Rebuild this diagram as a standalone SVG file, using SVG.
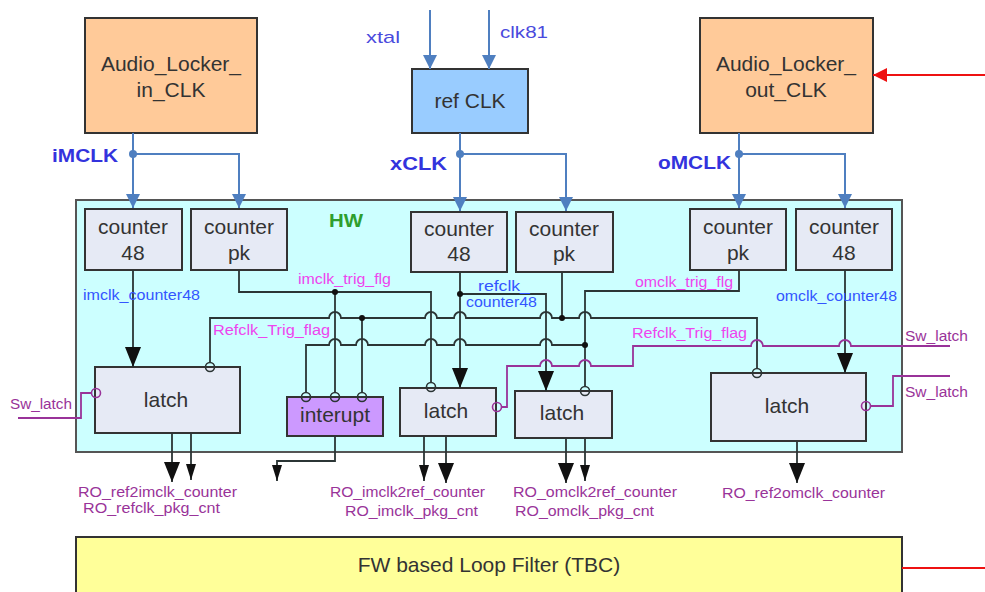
<svg xmlns="http://www.w3.org/2000/svg" width="985" height="592" viewBox="0 0 985 592">
<style>
text{font-family:"Liberation Sans",Arial,sans-serif}
.box{stroke:#333;stroke-width:2}
.orange{fill:#FFCA99}
.refc{fill:#99CCFF}
.cnt{fill:#E6EAF5}
.intr{fill:#CC99FF}
.bt{font-size:21px;fill:#333;text-anchor:middle}
.clkw{fill:none;stroke:#4F7FC0;stroke-width:2}
.w{fill:none;stroke:#2b3535;stroke-width:1.8}
.pw{fill:none;stroke:#993399;stroke-width:1.8}
.dot{fill:#111}
.bdot{fill:#4F7FC0}
.bub{fill:none;stroke:#2b3535;stroke-width:1.6}
.pbub{fill:none;stroke:#993399;stroke-width:1.6}
.ck{font-size:19px;font-weight:bold;fill:#3333DD}
.in{font-size:17px;fill:#4A4ADD}
.mg{font-size:14px;fill:#EE44EE}
.bl{font-size:14px;fill:#3355FF}
.pu{font-size:14px;fill:#993399}
.ro{font-size:14px;fill:#993399}
</style>
<defs>
<marker id="ab" markerUnits="userSpaceOnUse" viewBox="0 0 14 14" markerWidth="14" markerHeight="14" refX="14" refY="7" orient="auto"><path d="M0,0 L14,7 L0,14 z" fill="#4F7FC0"/></marker>
<marker id="ak" markerUnits="userSpaceOnUse" viewBox="0 0 20 16" markerWidth="20" markerHeight="16" refX="20" refY="8" orient="auto"><path d="M0,0 L20,8 L0,16 z" fill="#111"/></marker>
<marker id="aks" markerUnits="userSpaceOnUse" viewBox="0 0 16 10" markerWidth="16" markerHeight="10" refX="16" refY="5" orient="auto"><path d="M0,0 L16,5 L0,10 z" fill="#111"/></marker>
<marker id="ar" markerUnits="userSpaceOnUse" viewBox="0 0 14 14" markerWidth="14" markerHeight="14" refX="14" refY="7" orient="auto"><path d="M0,0 L14,7 L0,14 z" fill="#EE1111"/></marker>
</defs>

<g id="hw">
<rect x="76" y="200" width="826" height="252" fill="#CCFFFF" stroke="#555" stroke-width="2"/>
<text x="329" y="227" font-size="19" font-weight="bold" fill="#2E9E2E" textLength="34" lengthAdjust="spacingAndGlyphs">HW</text>
</g>

<g id="fw">
<rect x="76" y="537" width="826" height="62" fill="#FFFF99" stroke="#333" stroke-width="2"/>
<text x="489" y="572" class="bt">FW based Loop Filter (TBC)</text>
</g>

<g id="audio_in">
<rect x="85" y="18" width="172" height="115" class="box orange"/>
<text x="171" y="71" class="bt">Audio_Locker_</text>
<text x="171" y="97" class="bt">in_CLK</text>
</g>
<g id="ref_clk">
<rect x="412" y="69" width="116" height="64" class="box refc"/>
<text x="470" y="108" class="bt">ref CLK</text>
</g>
<g id="audio_out">
<rect x="700" y="18" width="173" height="115" class="box orange"/>
<text x="786" y="71" class="bt">Audio_Locker_</text>
<text x="786" y="97" class="bt">out_CLK</text>
</g>

<g id="counter48_i"><rect x="85" y="209" width="97" height="61" class="box cnt"/><text x="133" y="234" class="bt">counter</text><text x="133" y="260" class="bt">48</text></g>
<g id="counterpk_i"><rect x="191" y="209" width="96" height="61" class="box cnt"/><text x="239" y="234" class="bt">counter</text><text x="239" y="260" class="bt">pk</text></g>
<g id="counter48_r"><rect x="411" y="212" width="96" height="60" class="box cnt"/><text x="459" y="236" class="bt">counter</text><text x="459" y="261" class="bt">48</text></g>
<g id="counterpk_r"><rect x="516" y="212" width="97" height="60" class="box cnt"/><text x="564" y="236" class="bt">counter</text><text x="564" y="261" class="bt">pk</text></g>
<g id="counterpk_o"><rect x="690" y="209" width="96" height="61" class="box cnt"/><text x="738" y="234" class="bt">counter</text><text x="738" y="260" class="bt">pk</text></g>
<g id="counter48_o"><rect x="796" y="209" width="96" height="61" class="box cnt"/><text x="844" y="234" class="bt">counter</text><text x="844" y="260" class="bt">48</text></g>

<g id="latch1"><rect x="95" y="367" width="145" height="66" class="box cnt"/><text x="166" y="407" class="bt">latch</text></g>
<g id="interupt"><rect x="287" y="397" width="96" height="39" class="box intr"/><text x="335" y="422" class="bt">interupt</text></g>
<g id="latch2"><rect x="400" y="388" width="96" height="48" class="box cnt"/><text x="446" y="418" class="bt">latch</text></g>
<g id="latch3"><rect x="515" y="391" width="97" height="47" class="box cnt"/><text x="562" y="420" class="bt">latch</text></g>
<g id="latch4"><rect x="711" y="373" width="155" height="68" class="box cnt"/><text x="787" y="413" class="bt">latch</text></g>

<g id="connectors">
<path class="clkw" d="M430,10 V69" marker-end="url(#ab)"/>
<path class="clkw" d="M489,10 V69" marker-end="url(#ab)"/>
<path d="M985,75 H873" fill="none" stroke="#EE1111" stroke-width="2" marker-end="url(#ar)"/>
<path d="M902,568 H985" fill="none" stroke="#EE1111" stroke-width="2"/>
<path class="clkw" d="M133,133 V208" marker-end="url(#ab)"/>
<path class="clkw" d="M133,154 H239 V208" marker-end="url(#ab)"/>
<circle cx="133" cy="154" r="4" class="bdot"/>
<path class="clkw" d="M460,133 V211" marker-end="url(#ab)"/>
<path class="clkw" d="M460,154 H566 V211" marker-end="url(#ab)"/>
<circle cx="460" cy="154" r="4" class="bdot"/>
<path class="clkw" d="M739,133 V208" marker-end="url(#ab)"/>
<path class="clkw" d="M739,154 H845 V208" marker-end="url(#ab)"/>
<circle cx="739" cy="154" r="4" class="bdot"/>

<path class="w" d="M133,270 V367" marker-end="url(#ak)"/>
<path class="w" d="M845,270 V373" marker-end="url(#ak)"/>
<path class="w" d="M460,272 V388" marker-end="url(#ak)"/>
<path class="w" d="M460,294 H546 V391" marker-end="url(#ak)"/>
<circle cx="460" cy="294" r="3" class="dot"/>

<path class="w" d="M239,270 V292 H431 V383"/>
<path class="w" d="M335,292 V393"/>
<circle cx="335" cy="292" r="3" class="dot"/>

<path class="w" d="M562,272 V318"/>
<path class="w" d="M210,363 V318 H329 a6,6 0 0 1 12,0 H425 a6,6 0 0 1 12,0 H454 a6,6 0 0 1 12,0 H540 a6,6 0 0 1 12,0 H579 a6,6 0 0 1 12,0 H757 V369"/>
<path class="w" d="M362,318 V393"/>
<circle cx="362" cy="318" r="3" class="dot"/>
<circle cx="562" cy="318" r="3" class="dot"/>

<path class="w" d="M739,270 V291 H585 V387"/>
<path class="w" d="M306,393 V345 H329 a6,6 0 0 1 12,0 H356 a6,6 0 0 1 12,0 H425 a6,6 0 0 1 12,0 H454 a6,6 0 0 1 12,0 H540 a6,6 0 0 1 12,0 H585"/>
<circle cx="585" cy="345" r="3" class="dot"/>

<circle cx="210" cy="367" r="4.5" class="bub"/>
<circle cx="306" cy="397" r="4.5" class="bub"/>
<circle cx="335" cy="397" r="4.5" class="bub"/>
<circle cx="362" cy="397" r="4.5" class="bub"/>
<circle cx="431" cy="387" r="4.5" class="bub"/>
<circle cx="585" cy="391" r="4.5" class="bub"/>
<circle cx="757" cy="373" r="4.5" class="bub"/>

<path class="pw" d="M18,418 H81 V393 H91"/>
<circle cx="96" cy="393" r="4.5" class="pbub"/>
<path class="pw" d="M501,407 H507 V366 H540 a6,6 0 0 1 12,0 H579 a6,6 0 0 1 12,0 H633 V346 H751 a6,6 0 0 1 12,0 H839 a6,6 0 0 1 12,0 H950"/>
<circle cx="497" cy="407" r="4.5" class="pbub"/>
<path class="pw" d="M950,376 H893 V406 H871"/>
<circle cx="866" cy="406" r="4.5" class="pbub"/>

<path class="w" d="M172,433 V482" marker-end="url(#ak)"/>
<path class="w" d="M191,433 V480" marker-end="url(#aks)"/>
<path class="w" d="M335,436 V461 H277 V481" marker-end="url(#aks)"/>
<path class="w" d="M424,436 V481" marker-end="url(#aks)"/>
<path class="w" d="M446,436 V483" marker-end="url(#ak)"/>
<path class="w" d="M566,438 V483" marker-end="url(#ak)"/>
<path class="w" d="M585,438 V481" marker-end="url(#aks)"/>
<path class="w" d="M797,441 V483" marker-end="url(#ak)"/>
</g>

<g id="labels">
<text x="366" y="43" class="in" textLength="34" lengthAdjust="spacingAndGlyphs">xtal</text>
<text x="500" y="38" class="in" textLength="48" lengthAdjust="spacingAndGlyphs">clk81</text>
<text x="52" y="162" class="ck" textLength="66" lengthAdjust="spacingAndGlyphs">iMCLK</text>
<text x="390" y="170" class="ck" textLength="57" lengthAdjust="spacingAndGlyphs">xCLK</text>
<text x="658" y="169" class="ck" textLength="73" lengthAdjust="spacingAndGlyphs">oMCLK</text>
<text x="83" y="300" class="bl" textLength="117" lengthAdjust="spacingAndGlyphs">imclk_counter48</text>
<text x="478" y="291" class="bl" textLength="52" lengthAdjust="spacingAndGlyphs">refclk_</text>
<text x="466" y="307" class="bl" textLength="71" lengthAdjust="spacingAndGlyphs">counter48</text>
<text x="776" y="301" class="bl" textLength="121" lengthAdjust="spacingAndGlyphs">omclk_counter48</text>
<text x="298" y="284" class="mg" textLength="93" lengthAdjust="spacingAndGlyphs">imclk_trig_flg</text>
<text x="635" y="287" class="mg" textLength="98" lengthAdjust="spacingAndGlyphs">omclk_trig_flg</text>
<text x="213" y="335" class="mg" textLength="117" lengthAdjust="spacingAndGlyphs">Refclk_Trig_flag</text>
<text x="632" y="338" class="mg" textLength="115" lengthAdjust="spacingAndGlyphs">Refclk_Trig_flag</text>
<text x="905" y="341" class="pu" textLength="63" lengthAdjust="spacingAndGlyphs">Sw_latch</text>
<text x="905" y="397" class="pu" textLength="63" lengthAdjust="spacingAndGlyphs">Sw_latch</text>
<text x="10" y="409" class="pu" textLength="62" lengthAdjust="spacingAndGlyphs">Sw_latch</text>
<text x="78" y="497" class="ro" textLength="159" lengthAdjust="spacingAndGlyphs">RO_ref2imclk_counter</text>
<text x="83" y="513" class="ro" textLength="137" lengthAdjust="spacingAndGlyphs">RO_refclk_pkg_cnt</text>
<text x="330" y="497" class="ro" textLength="155" lengthAdjust="spacingAndGlyphs">RO_imclk2ref_counter</text>
<text x="345" y="516" class="ro" textLength="133" lengthAdjust="spacingAndGlyphs">RO_imclk_pkg_cnt</text>
<text x="513" y="497" class="ro" textLength="164" lengthAdjust="spacingAndGlyphs">RO_omclk2ref_counter</text>
<text x="515" y="516" class="ro" textLength="139" lengthAdjust="spacingAndGlyphs">RO_omclk_pkg_cnt</text>
<text x="722" y="498" class="ro" textLength="163" lengthAdjust="spacingAndGlyphs">RO_ref2omclk_counter</text>
</g>
</svg>
